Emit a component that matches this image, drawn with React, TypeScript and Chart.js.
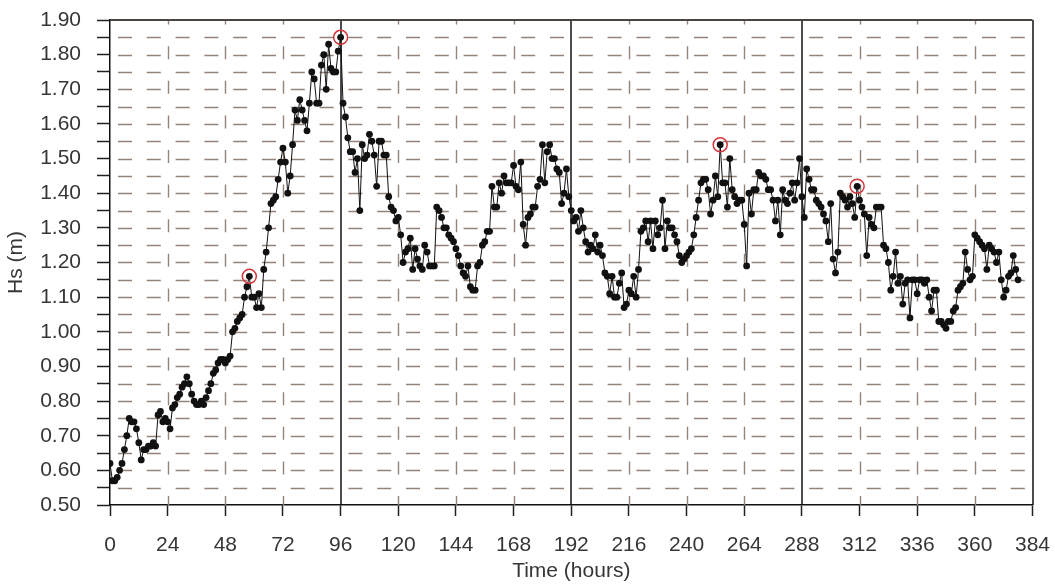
import { useEffect, useRef } from "react";
import { Chart, registerables } from "chart.js";

Chart.register(...registerables);

// Significant wave height, one reading per hour starting at hour 0
const HS: number[] = [
  0.62, 0.57, 0.57, 0.58, 0.60, 0.62, 0.66, 0.70, 0.75, 0.74, 0.74, 0.72,
  0.68, 0.63, 0.66, 0.66, 0.67, 0.67, 0.68, 0.67, 0.76, 0.77, 0.74, 0.75,
  0.74, 0.72, 0.78, 0.79, 0.81, 0.82, 0.84, 0.85, 0.87, 0.85, 0.82, 0.80,
  0.79, 0.79, 0.80, 0.79, 0.81, 0.83, 0.85, 0.88, 0.89, 0.91, 0.92, 0.92,
  0.91, 0.92, 0.93, 1.00, 1.01, 1.03, 1.04, 1.05, 1.10, 1.13, 1.16, 1.10,
  1.10, 1.07, 1.11, 1.07, 1.18, 1.23, 1.30, 1.37, 1.38, 1.39, 1.44, 1.49,
  1.53, 1.49, 1.40, 1.45, 1.54, 1.64, 1.61, 1.67, 1.64, 1.61, 1.58, 1.66,
  1.75, 1.73, 1.66, 1.66, 1.77, 1.80, 1.70, 1.83, 1.76, 1.75, 1.75, 1.81,
  1.85, 1.66, 1.62, 1.56, 1.52, 1.52, 1.46, 1.50, 1.35, 1.54, 1.50, 1.51,
  1.57, 1.55, 1.51, 1.42, 1.55, 1.55, 1.51, 1.51, 1.39, 1.36, 1.35, 1.32,
  1.33, 1.28, 1.20, 1.23, 1.24, 1.27, 1.18, 1.24, 1.21, 1.19, 1.18, 1.25,
  1.23, 1.19, 1.19, 1.19, 1.36, 1.35, 1.33, 1.30, 1.30, 1.28, 1.27, 1.26,
  1.24, 1.22, 1.19, 1.17, 1.16, 1.19, 1.13, 1.12, 1.12, 1.19, 1.20, 1.25,
  1.26, 1.29, 1.29, 1.42, 1.36, 1.36, 1.43, 1.40, 1.45, 1.43, 1.43, 1.43,
  1.48, 1.42, 1.41, 1.49, 1.31, 1.25, 1.33, 1.34, 1.36, 1.36, 1.42, 1.44,
  1.54, 1.43, 1.52, 1.54, 1.50, 1.50, 1.47, 1.46, 1.37, 1.40, 1.47, 1.39,
  1.35, 1.32, 1.33, 1.29, 1.35, 1.30, 1.26, 1.23, 1.25, 1.24, 1.28, 1.23,
  1.25, 1.22, 1.17, 1.16, 1.11, 1.16, 1.10, 1.10, 1.14, 1.17, 1.07, 1.08,
  1.12, 1.11, 1.16, 1.10, 1.18, 1.29, 1.30, 1.32, 1.26, 1.32, 1.24, 1.32,
  1.28, 1.30, 1.38, 1.24, 1.32, 1.30, 1.30, 1.28, 1.26, 1.22, 1.20, 1.21,
  1.22, 1.23, 1.24, 1.28, 1.33, 1.38, 1.43, 1.44, 1.44, 1.41, 1.34, 1.38,
  1.45, 1.39, 1.54, 1.43, 1.43, 1.36, 1.50, 1.41, 1.39, 1.37, 1.38, 1.38,
  1.31, 1.19, 1.40, 1.34, 1.41, 1.41, 1.46, 1.45, 1.45, 1.44, 1.41, 1.41,
  1.38, 1.32, 1.38, 1.28, 1.41, 1.38, 1.37, 1.40, 1.43, 1.38, 1.43, 1.50,
  1.39, 1.33, 1.47, 1.44, 1.41, 1.41, 1.38, 1.37, 1.36, 1.34, 1.32, 1.26,
  1.37, 1.21, 1.17, 1.23, 1.40, 1.39, 1.38, 1.36, 1.39, 1.37, 1.33, 1.42,
  1.38, 1.36, 1.34, 1.22, 1.33, 1.31, 1.30, 1.36, 1.36, 1.36, 1.25, 1.24,
  1.20, 1.12, 1.16, 1.23, 1.14, 1.16, 1.08, 1.14, 1.15, 1.04, 1.15, 1.15,
  1.11, 1.15, 1.15, 1.14, 1.15, 1.10, 1.06, 1.12, 1.12, 1.03, 1.03, 1.02,
  1.01, 1.03, 1.03, 1.06, 1.07, 1.12, 1.13, 1.14, 1.23, 1.18, 1.15, 1.16,
  1.28, 1.27, 1.26, 1.25, 1.24, 1.18, 1.25, 1.24, 1.23, 1.20, 1.23, 1.15,
  1.10, 1.12, 1.16, 1.17, 1.22, 1.18, 1.15,
];

// Hours whose readings are ringed
const MARKED_HOURS: number[] = [58, 96, 254, 311];

// Hours that get a solid divider line instead of a dashed one
const DIVIDER_HOURS: number[] = [96, 192, 288, 384];

const X_MIN = 0;
const X_MAX = 384;
const X_STEP = 24;
const Y_MIN = 0.5;
const Y_MAX = 1.9;
const Y_STEP = 0.05;

const FONT_FAMILY = "'Liberation Sans', Arial, sans-serif";
const TEXT_COLOR = "#363636";
const GRID_COLOR = "#958378";

const dashedGrid = {
  id: "dashedGrid",
  beforeDatasetsDraw(chart: any) {
    const { ctx, chartArea: a, scales } = chart;
    const x = scales.x;
    const y = scales.y;
    ctx.save();

    // horizontal dashed lines every 0.05 m
    ctx.strokeStyle = GRID_COLOR;
    ctx.lineWidth = 1.7;
    ctx.setLineDash([14, 14.8]);
    const nY = Math.round((Y_MAX - Y_MIN) / Y_STEP);
    for (let k = 1; k < nY; k++) {
      const py = Math.round(y.getPixelForValue(Y_MIN + k * Y_STEP)) + 0.5;
      ctx.lineDashOffset = -8;
      ctx.beginPath();
      ctx.moveTo(a.left, py);
      ctx.lineTo(a.right, py);
      ctx.stroke();
    }

    // vertical dashed lines at each tick
    ctx.lineWidth = 1.4;
    ctx.setLineDash([13, 21.6]);
    for (let h = X_MIN + X_STEP; h < X_MAX; h += X_STEP) {
      if (DIVIDER_HOURS.includes(h)) continue;
      const px = Math.round(x.getPixelForValue(h)) + 0.5;
      ctx.lineDashOffset = 4;
      ctx.beginPath();
      ctx.moveTo(px, a.bottom);
      ctx.lineTo(px, a.top);
      ctx.stroke();
    }

    // solid dividers and frame
    ctx.setLineDash([]);
    ctx.strokeStyle = "#111";
    ctx.lineWidth = 1.5;
    for (const h of DIVIDER_HOURS) {
      const px = Math.round(x.getPixelForValue(h));
      ctx.beginPath();
      ctx.moveTo(px, a.bottom);
      ctx.lineTo(px, a.top);
      ctx.stroke();
    }
    ctx.strokeStyle = "#4a4440";
    ctx.lineWidth = 2.2;
    ctx.beginPath();
    ctx.moveTo(a.left, a.top);
    ctx.lineTo(a.right, a.top);
    ctx.stroke();

    ctx.restore();
  },
};

export default function App() {
  const canvasRef = useRef<HTMLCanvasElement | null>(null);

  useEffect(() => {
    document.body.style.margin = "0";
    const canvas = canvasRef.current;
    if (!canvas) return;

    const series = HS.map((v, h) => ({ x: h, y: v }));
    const marked = MARKED_HOURS.map((h) => ({ x: h, y: HS[h] }));

    const chart = new Chart(canvas, {
      type: "scatter",
      data: {
        datasets: [
          {
            label: "ring",
            data: marked,
            showLine: false,
            pointRadius: 7,
            pointBorderWidth: 1.5,
            pointBorderColor: "#d6343a",
            pointBackgroundColor: "rgba(0,0,0,0)",
            order: 0,
          },
          {
            label: "Hs",
            data: series,
            showLine: true,
            borderColor: "#111",
            borderWidth: 1,
            pointRadius: 3.4,
            pointBorderWidth: 0,
            pointBackgroundColor: "#111",
            pointBorderColor: "#111",
            order: 1,
          },
        ],
      },
      plugins: [dashedGrid],
      options: {
        animation: false,
        responsive: true,
        maintainAspectRatio: false,
        layout: { padding: { left: 0, top: 20, right: 22.5, bottom: 0 } },
        plugins: {
          legend: { display: false },
          tooltip: { enabled: false },
        },
        scales: {
          x: {
            type: "linear",
            min: X_MIN,
            max: X_MAX,
            afterFit: (s: any) => {
              s.height = 79;
              s.paddingLeft = 0;
              s.paddingRight = 0;
            },
            ticks: {
              stepSize: X_STEP,
              autoSkip: false,
              maxRotation: 0,
              padding: 17,
              color: TEXT_COLOR,
              font: { family: FONT_FAMILY, size: 21 },
            },
            grid: {
              display: true,
              drawOnChartArea: false,
              drawTicks: true,
              tickLength: 11,
              tickWidth: 1.5,
              tickColor: "#222",
            },
            border: { display: true, color: "#111", width: 1.5 },
            title: {
              display: true,
              text: "Time (hours)",
              color: TEXT_COLOR,
              font: { family: FONT_FAMILY, size: 21, lineHeight: 1.1 },
              padding: { top: 0, bottom: 1 },
            },
          },
          y: {
            type: "linear",
            min: Y_MIN,
            max: Y_MAX,
            afterFit: (s: any) => {
              s.width = 110;
              s.paddingTop = 0;
              s.paddingBottom = 0;
            },
            ticks: {
              stepSize: Y_STEP,
              autoSkip: false,
              padding: 16,
              color: TEXT_COLOR,
              font: { family: FONT_FAMILY, size: 21 },
              callback: (v: any) =>
                Math.round(Number(v) * 100) % 10 === 0 ? Number(v).toFixed(2) : "",
            },
            grid: {
              display: true,
              drawOnChartArea: false,
              drawTicks: true,
              tickLength: 13,
              tickWidth: 1.5,
              tickColor: "#222",
            },
            border: { display: true, color: "#111", width: 1.5 },
            title: {
              display: true,
              text: "Hs (m)",
              color: TEXT_COLOR,
              font: { family: FONT_FAMILY, size: 21 },
              padding: { top: 4, bottom: 0 },
            },
          },
        },
      },
    });

    return () => chart.destroy();
  }, []);

  return (
    <div style={{ position: "relative", width: 1055, height: 584, background: "#fff" }}>
      <canvas ref={canvasRef} />
    </div>
  );
}
